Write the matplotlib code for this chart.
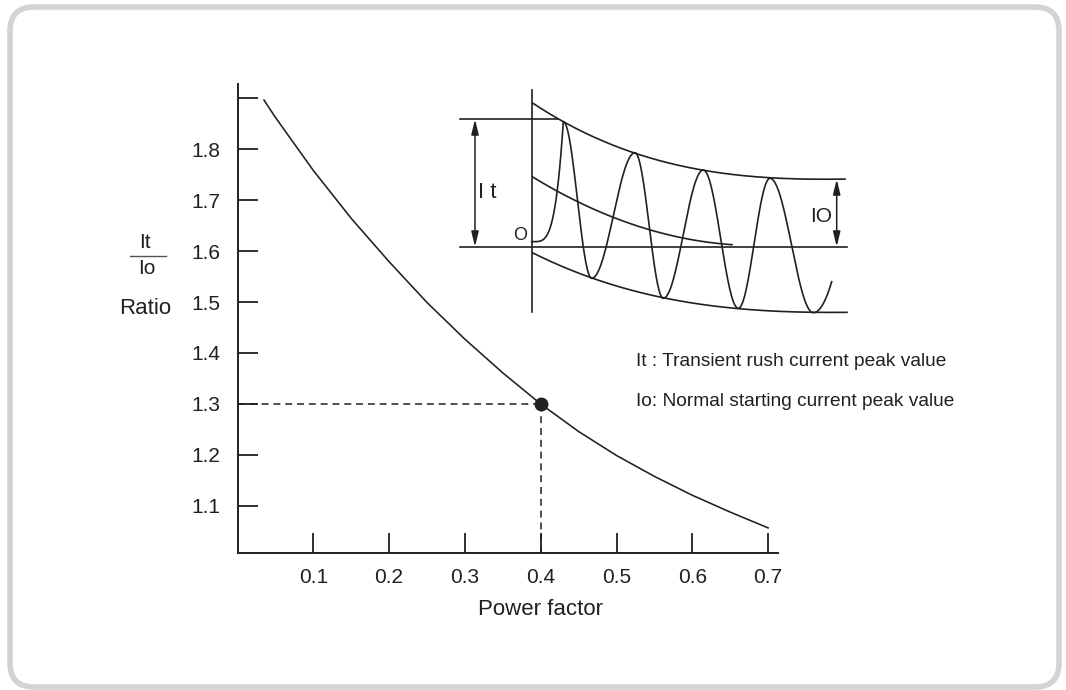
import numpy as np
import matplotlib
matplotlib.use('Agg')
import matplotlib.pyplot as plt
from matplotlib import font_manager
from matplotlib.patches import FancyBboxPatch

installed = {f.name for f in font_manager.fontManager.ttflist}
sans = 'Liberation Sans' if 'Liberation Sans' in installed else 'DejaVu Sans'
plt.rcParams['font.family'] = [sans, 'DejaVu Sans']
plt.rcParams['lines.scale_dashes'] = False

ink = '#231f20'

# ratio It/Io against power factor
power_factor = [0.035, 0.05, 0.10, 0.15, 0.20, 0.25, 0.30, 0.35, 0.40,
                0.45, 0.50, 0.55, 0.60, 0.65, 0.70]
ratio = [1.896, 1.862, 1.758, 1.664, 1.579, 1.499, 1.427, 1.361, 1.300,
         1.246, 1.199, 1.158, 1.121, 1.088, 1.057]
marked_pf = 0.4
marked_ratio = 1.3

y_ticks = [1.1, 1.2, 1.3, 1.4, 1.5, 1.6, 1.7, 1.8, 1.9]
y_labels = ['1.1', '1.2', '1.3', '1.4', '1.5', '1.6', '1.7', '1.8', '']
x_ticks = [0.1, 0.2, 0.3, 0.4, 0.5, 0.6, 0.7]
x_labels = ['0.1', '0.2', '0.3', '0.4', '0.5', '0.6', '0.7']

# inset sketch of the rush current, in figure pixels
wave_x = [531.7, 563.3, 591.7, 635.0, 663.3, 703.3, 738.3, 770.0, 813.3]
wave_y = [241.7, 121.7, 278.3, 152.7, 298.3, 170.0, 308.3, 178.3, 312.7]
wave_end = (831.7, 281.7)
upper_x = [533, 563, 635, 703, 770, 845]
upper_y = [103, 122, 153, 170, 178, 179]
lower_x = [533, 592, 663, 738, 813, 847]
lower_y = [253, 278, 298, 308, 313, 312]
mid_x = [533, 613, 673, 732]
mid_y = [177, 218, 235, 245]

legend_lines = ['It : Transient rush current peak value',
                'Io: Normal starting current peak value']

fig = plt.figure(figsize=(10.66, 6.9), dpi=100)
W, H = 1066, 690

# ---- main chart ----
ax = fig.add_axes([237.5 / W, (H - 553) / H, 540.5 / W, 469 / H])
ax.patch.set_alpha(0)
ax.plot(power_factor, ratio, color=ink, lw=1.15, solid_joinstyle='round')
ax.plot([0, marked_pf], [marked_ratio, marked_ratio], color=ink, lw=1.1, dashes=(5, 3.5))
ax.plot([marked_pf, marked_pf], [1.0078, marked_ratio], color=ink, lw=1.1, dashes=(5, 3.5))
ax.plot([marked_pf], [marked_ratio], 'o', color=ink, ms=9, zorder=5)

ax.set_xlim(0, 0.713)
ax.set_ylim(1.0078, 1.9275)
for s in ['top', 'right']:
    ax.spines[s].set_visible(False)
for s in ['left', 'bottom']:
    ax.spines[s].set_linewidth(1.4)
    ax.spines[s].set_color(ink)
ax.set_yticks(y_ticks)
ax.set_yticklabels(y_labels, fontsize=15, color=ink)
ax.set_xticks(x_ticks)
ax.set_xticklabels(x_labels, fontsize=15, color=ink)
ax.tick_params(axis='y', direction='in', length=14.5, width=1.3, color=ink, pad=12.5)
ax.tick_params(axis='x', direction='in', length=14.5, width=1.3, color=ink, pad=11)
ax.set_xlabel('Power factor', fontsize=16, color=ink)
ax.xaxis.set_label_coords(0.5615, -0.099)

# ---- overlay in pixel coordinates: frame, y label, inset, notes ----
ov = fig.add_axes([0, 0, 1, 1])
ov.set_xlim(0, W)
ov.set_ylim(H, 0)
ov.axis('off')
ov.patch.set_alpha(0)

ov.add_patch(FancyBboxPatch((10, 7), 1049, 680, boxstyle='round,pad=0,rounding_size=24',
                            lw=4, ec='#d3d3d3', fc='none', clip_on=False))

ov.text(145, 243, 'It', fontsize=15, ha='center', va='center', color=ink)
ov.plot([130, 166], [255.7, 255.7], color='#555555', lw=1)
ov.text(147, 269, 'Io', fontsize=15, ha='center', va='center', color=ink)
ov.text(145, 309, 'Ratio', fontsize=16, ha='center', va='center', color=ink)

# axes of the sketch
ov.plot([532, 532], [90, 312], color=ink, lw=1.2)
ov.plot([460, 847], [246.7, 246.7], color=ink, lw=1.2)
ov.plot([460, 558], [119.3, 119.3], color=ink, lw=1.2)

# envelopes and decaying offset
for xs, ys in [(upper_x, upper_y), (lower_x, lower_y), (mid_x, mid_y)]:
    c = np.polyfit(xs, ys, 3 if len(xs) > 4 else 2)
    xx = np.linspace(xs[0], xs[-1], 200)
    ov.plot(xx, np.polyval(c, xx), color=ink, lw=1.2)

# waveform: first rise, then half-cosine swings between the extrema
u = np.linspace(0, 1, 60)
wx = [wave_x[0] + (wave_x[1] - wave_x[0]) * np.sqrt(np.sin(u * np.pi / 2))]
wy = [wave_y[0] + (wave_y[1] - wave_y[0]) * (1 - np.cos(u * np.pi)) / 2]
for i in range(1, len(wave_x) - 1):
    wx.append(wave_x[i] + (wave_x[i + 1] - wave_x[i]) * u)
    wy.append(wave_y[i] + (wave_y[i + 1] - wave_y[i]) * (1 - np.cos(u * np.pi)) / 2)
wx.append(wave_x[-1] + (wave_end[0] - wave_x[-1]) * u)
wy.append(wave_y[-1] + (wave_end[1] - wave_y[-1]) * u ** 2)
ov.plot(np.concatenate(wx), np.concatenate(wy), color=ink, lw=1.2)

arrow = dict(arrowstyle='<|-|>,head_length=0.9,head_width=0.22', color=ink, lw=1.1,
             shrinkA=0, shrinkB=0, mutation_scale=10)
ov.annotate('', xy=(475, 119.3), xytext=(475, 246.7), arrowprops=arrow)
ov.annotate('', xy=(836.7, 179.3), xytext=(836.7, 246.7), arrowprops=arrow)
ov.text(487, 192, 'I t', fontsize=16, ha='center', va='center', color=ink)
ov.text(821, 216, 'IO', fontsize=15, ha='center', va='center', color=ink)
ov.text(520, 236, 'O', fontsize=13, ha='center', va='center', color=ink)

ov.text(636, 362, legend_lines[0], fontsize=13.8, ha='left', va='center', color=ink)
ov.text(636, 401, legend_lines[1], fontsize=13.8, ha='left', va='center', color=ink)

fig.savefig('out.png', dpi=100, facecolor='white')
